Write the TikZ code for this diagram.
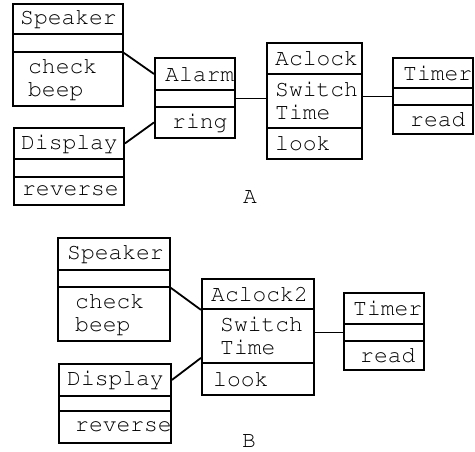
\documentclass[tikz,border=0pt]{standalone}
\usepackage[T1]{fontenc}
\usetikzlibrary{calc}

\tikzset{
  cell/.style={draw, line width=1.9pt, anchor=north west, inner sep=0pt,
    minimum width=#1},
  txt/.style={anchor=west, align=left, inner sep=0pt,
    font=\fontfamily{pcr}\fontsize{23}{23}\selectfont},
  link/.style={line width=1.8pt},
}

\begin{document}
\begin{tikzpicture}[x=1pt,y=-1pt]
\useasboundingbox (0,0) rectangle (475,451);

%%% A
% Speaker
\node[cell=110, minimum height=30] (spk-n) at (12,3) {};
\node[cell=110, minimum height=18] (spk-a) at (12,33) {};
\node[cell=110, minimum height=54] (spk-o) at (12,51) {};
\node[txt] at ([xshift=8]spk-n.west) {Speaker};
\node[txt] at ([xshift=16]spk-o.west) {check\\beep};
% Display
\node[cell=110, minimum height=31] (dsp-n) at (13,127) {};
\node[cell=110, minimum height=18] (dsp-a) at (13,158) {};
\node[cell=110, minimum height=28] (dsp-o) at (13,176) {};
\node[txt] at ([xshift=8]dsp-n.west) {Display};
\node[txt] at ([xshift=9]dsp-o.west) {reverse};
% Alarm
\node[cell=80, minimum height=32] (alm-n) at (154,57) {};
\node[cell=80, minimum height=17] (alm-a) at (154,89) {};
\node[cell=80, minimum height=31] (alm-o) at (154,106) {};
\node[txt] at ([xshift=11]alm-n.west) {Alarm};
\node[txt] at ([xshift=18]alm-o.west) {ring};
% Aclock
\node[cell=95, minimum height=31] (ack-n) at (266,42) {};
\node[cell=95, minimum height=54] (ack-a) at (266,73) {};
\node[cell=95, minimum height=31] (ack-o) at (266,127) {};
\node[txt] at ([xshift=9]ack-n.west) {Aclock};
\node[txt] at ([xshift=9]ack-a.west) {Switch\\Time};
\node[txt] at ([xshift=9]ack-o.west) {look};
% Timer
\node[cell=80, minimum height=30] (tmr-n) at (392,57) {};
\node[cell=80, minimum height=17] (tmr-a) at (392,87) {};
\node[cell=80, minimum height=29] (tmr-o) at (392,104) {};
\node[txt] at ([xshift=11]tmr-n.west) {Timer};
\node[txt] at ([xshift=18]tmr-o.west) {read};

\draw[link] (spk-a.south east) -- (alm-n.west);
\draw[link] (dsp-n.east) -- (alm-o.west);
\draw[link] (alm-a.east) -- (alm-a.east -| ack-a.west);
\draw[link] (tmr-a.west -| ack-a.east) -- (tmr-a.west);

\node[txt, anchor=base] (capA) at (250,203) {A};

%%% B
% Speaker
\node[cell=112, minimum height=32] (spkb-n) at (57,237) {};
\node[cell=112, minimum height=17] (spkb-a) at (57,269) {};
\node[cell=112, minimum height=54] (spkb-o) at (57,286) {};
\node[txt] at ([xshift=10]spkb-n.west) {Speaker};
\node[txt] at ([xshift=18]spkb-o.west) {check\\beep};
% Display
\node[cell=112, minimum height=32] (dspb-n) at (58,363) {};
\node[cell=112, minimum height=15] (dspb-a) at (58,395) {};
\node[cell=112, minimum height=32] (dspb-o) at (58,410) {};
\node[txt] at ([xshift=9]dspb-n.west) {Display};
\node[txt] at ([xshift=17]dspb-o.west) {reverse};
% Aclock2
\node[cell=112, minimum height=30] (ackb-n) at (201,278) {};
\node[cell=112, minimum height=54] (ackb-a) at (201,308) {};
\node[cell=112, minimum height=32] (ackb-o) at (201,362) {};
\node[txt] at ([xshift=10]ackb-n.west) {Aclock2};
\node[txt] at ([xshift=19]ackb-a.west) {Switch\\Time};
\node[txt] at ([xshift=12]ackb-o.west) {look};
% Timer
\node[cell=80, minimum height=31] (tmrb-n) at (343,292) {};
\node[cell=80, minimum height=17] (tmrb-a) at (343,323) {};
\node[cell=80, minimum height=29] (tmrb-o) at (343,340) {};
\node[txt] at ([xshift=10]tmrb-n.west) {Timer};
\node[txt] at ([xshift=17]tmrb-o.west) {read};

\draw[link] (spkb-a.south east) -- (ackb-n.south west);
\draw[link] (dspb-n.east) -- ([yshift=6]ackb-a.south west);
\draw[link] (tmrb-a.west -| ackb-a.east) -- (tmrb-a.west);

\node[txt, anchor=base] (capB) at (249,447) {B};
\end{tikzpicture}
\end{document}
